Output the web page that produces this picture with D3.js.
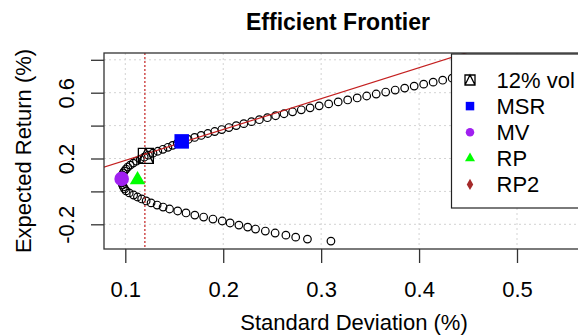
<!DOCTYPE html>
<html>
<head>
<meta charset="utf-8">
<script src="https://cdn.jsdelivr.net/npm/d3@7"></script>
<style>
body { margin: 0; background: #fff; }
svg { display: block; font-family: "Liberation Sans", Arial, sans-serif; }
</style>
</head>
<body>
<div id="chart"></div>
<script>
// frontier points, lowest return first
const frontierRet = [-0.302, -0.290, -0.278, -0.266, -0.253, -0.241, -0.229, -0.217, -0.205, -0.192,
  -0.180, -0.168, -0.156, -0.144, -0.131, -0.119, -0.107, -0.095, -0.083, -0.070,
  -0.058, -0.046, -0.034, -0.022, -0.009, 0.003, 0.015, 0.027, 0.039, 0.052, 0.064,
  0.076, 0.088, 0.100, 0.112, 0.124, 0.136, 0.148, 0.160, 0.172, 0.184, 0.196, 0.208,
  0.220, 0.232, 0.244, 0.256, 0.268, 0.280, 0.292, 0.304, 0.316, 0.328, 0.340, 0.352,
  0.364, 0.376, 0.388, 0.400, 0.412, 0.424, 0.436, 0.448, 0.460, 0.472, 0.484, 0.496,
  0.508, 0.520, 0.532, 0.544, 0.556, 0.568, 0.580, 0.592, 0.604, 0.616, 0.628, 0.640,
  0.652, 0.664, 0.676, 0.688];
const frontierSd = [0.310, 0.286, 0.274, 0.264, 0.253, 0.243, 0.233, 0.225, 0.216, 0.207,
  0.199, 0.1895, 0.180, 0.171, 0.162, 0.1535, 0.1452, 0.1386, 0.1325, 0.1263,
  0.1213, 0.1167, 0.1124, 0.1085, 0.104, 0.1008, 0.0993, 0.0981, 0.0972, 0.0966, 0.0962,
  0.0960, 0.0964, 0.0970, 0.0979, 0.0991, 0.1007, 0.1025, 0.1050, 0.1080, 0.1114, 0.1153, 0.1193,
  0.1236, 0.1283, 0.1332, 0.1384, 0.1435, 0.1483, 0.1530, 0.1580, 0.1643, 0.1708, 0.1775, 0.1843,
  0.1913, 0.1985, 0.2058, 0.2133, 0.2210, 0.2289, 0.2369, 0.2451, 0.2535, 0.2621, 0.2708, 0.2797,
  0.2887, 0.2980, 0.3077, 0.3174, 0.3271, 0.3368, 0.3465, 0.3562, 0.3659, 0.3756, 0.3853, 0.3950,
  0.4047, 0.4144, 0.4241, 0.4338];

// named portfolios (RP2 is not visible in the plot, legend only)
const portNames = ["12% vol", "MSR", "MV", "RP", "RP2"];
const portSd = [0.121, 0.1576, 0.0963, 0.1125, null];
const portRet = [0.216, 0.304, 0.076, 0.070, null];
const portColors = ["#000000", "#0000ff", "#a020f0", "#00ff00", "#a52a2a"];

const xTicks = [0.1, 0.2, 0.3, 0.4, 0.5];
const yTicks = [-0.2, 0, 0.2, 0.4, 0.6, 0.8];
const yTickLabels = ["-0.2", "", "0.2", "", "0.6", ""];
const targetVol = 0.12;
const cmlSlope = 1.88;

const W = 578, H = 336;
const plot = {left: 104, top: 53, right: 640, bottom: 249};

const svg = d3.select("#chart").append("svg").attr("width", W).attr("height", H);

const x = d3.scaleLinear().domain([0.1, 0.5]).range([125.3, 517]);
const y = d3.scaleLinear().domain([-0.2, 0.6]).range([224.3, 92.7]);

svg.append("clipPath").attr("id", "clip")
  .append("rect").attr("x", plot.left).attr("y", plot.top)
  .attr("width", plot.right - plot.left).attr("height", plot.bottom - plot.top);

// grid
const grid = svg.append("g").attr("stroke", "#d3d3d3").attr("stroke-dasharray", "2,3").attr("stroke-width", 1);
grid.selectAll(".gx").data(xTicks).join("line")
  .attr("x1", d => x(d)).attr("x2", d => x(d)).attr("y1", plot.top).attr("y2", plot.bottom);
grid.selectAll(".gy").data(yTicks).join("line")
  .attr("x1", plot.left).attr("x2", plot.right).attr("y1", d => y(d)).attr("y2", d => y(d));

const inner = svg.append("g").attr("clip-path", "url(#clip)");

// frontier
inner.selectAll("circle.fr").data(d3.range(frontierRet.length)).join("circle")
  .attr("class", "fr")
  .attr("cx", i => x(frontierSd[i])).attr("cy", i => y(frontierRet[i]))
  .attr("r", 3.8).attr("fill", "none").attr("stroke", "#000").attr("stroke-width", 1.2);

// capital market line and target vol line
inner.append("line")
  .attr("x1", x(0)).attr("y1", y(0)).attr("x2", x(0.7)).attr("y2", y(0.7 * cmlSlope))
  .attr("stroke", "#c42020").attr("stroke-width", 1.2);
inner.append("line")
  .attr("x1", x(targetVol)).attr("x2", x(targetVol)).attr("y1", plot.top).attr("y2", plot.bottom)
  .attr("stroke", "#c42020").attr("stroke-width", 1.2).attr("stroke-dasharray", "2,2");

// portfolio markers
function marker(g, i, s) {
  const c = portColors[i];
  if (i === 0) {
    const h = s / 2;
    g.append("path")
      .attr("d", `M${-h},${-h}H${h}V${h}H${-h}Z M${-h},${h}L0,${-h}L${h},${h}`)
      .attr("fill", "none").attr("stroke", c).attr("stroke-width", 1.3);
  } else if (i === 1) {
    g.append("rect").attr("x", -s / 2).attr("y", -s / 2).attr("width", s).attr("height", s).attr("fill", c);
  } else if (i === 2) {
    g.append("circle").attr("r", s / 2).attr("fill", c);
  } else if (i === 3) {
    g.append("path").attr("d", d3.symbol().type(d3.symbolTriangle).size(s * s * 0.433)).attr("fill", c);
  } else {
    g.append("path").attr("d", d3.symbol().type(d3.symbolDiamond).size(s * s * 0.5)).attr("fill", c);
  }
}
const plotSizes = [15, 14.5, 14.6, 15.5, 12];
portNames.forEach((n, i) => {
  if (portSd[i] == null) return;
  const g = inner.append("g").attr("transform", `translate(${x(portSd[i])},${y(portRet[i])})`);
  marker(g, i, plotSizes[i]);
});

// frame
svg.append("rect").attr("x", plot.left).attr("y", plot.top)
  .attr("width", plot.right - plot.left).attr("height", plot.bottom - plot.top)
  .attr("fill", "none").attr("stroke", "#333").attr("stroke-width", 1.3);

// axes
const xAxis = svg.append("g").attr("transform", `translate(0,${plot.bottom})`)
  .call(d3.axisBottom(x).tickValues(xTicks).tickSize(14).tickPadding(18).tickFormat(d3.format(".1f")));
xAxis.select(".domain").remove();
xAxis.selectAll("line").attr("stroke", "#333").attr("stroke-width", 1.3);
xAxis.selectAll("text").attr("font-size", 22).attr("fill", "#000");

const yAxis = svg.append("g").attr("transform", `translate(${plot.left},0)`)
  .call(d3.axisLeft(y).tickValues(yTicks).tickSize(13).tickFormat((d, i) => yTickLabels[i]));
yAxis.select(".domain").remove();
yAxis.selectAll("line").attr("stroke", "#333").attr("stroke-width", 1.3);
yAxis.selectAll("text")
  .attr("font-size", 22).attr("fill", "#000")
  .attr("x", null).attr("dy", null).attr("text-anchor", "middle")
  .attr("transform", "translate(-30,0) rotate(-90)");

// titles
svg.append("text").attr("x", 338).attr("y", 30).attr("text-anchor", "middle")
  .attr("font-size", 23).attr("font-weight", "bold").text("Efficient Frontier");
svg.append("text").attr("x", 354).attr("y", 330).attr("text-anchor", "middle")
  .attr("font-size", 22).text("Standard Deviation (%)");
svg.append("text").attr("transform", "translate(31,151) rotate(-90)").attr("text-anchor", "middle")
  .attr("font-size", 22).text("Expected Return (%)");

// legend
const leg = svg.append("g");
leg.append("rect").attr("x", 451.5).attr("y", 54).attr("width", 200).attr("height", 154)
  .attr("fill", "#fff").attr("stroke", "#222").attr("stroke-width", 1.2);
const legSizes = [10, 8.5, 8.5, 10, 8.5];
portNames.forEach((n, i) => {
  const cy = 80 + i * 26.1;
  const g = leg.append("g").attr("transform", `translate(470,${cy})`);
  marker(g, i, legSizes[i]);
  leg.append("text").attr("x", 496.5).attr("y", cy + 8).attr("font-size", 22).text(n);
});
</script>
</body>
</html>
